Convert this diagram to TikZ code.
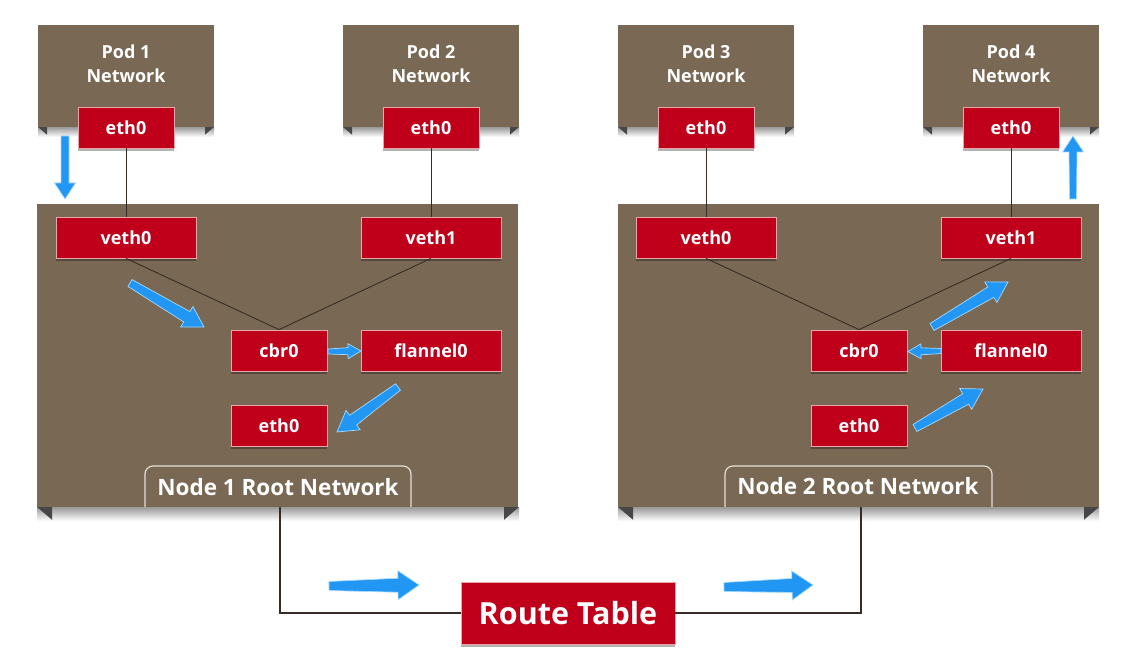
\documentclass[tikz,border=0pt]{standalone}
\usepackage{fontspec}
\setmainfont{Open Sans}
\usetikzlibrary{calc,shadows}
\definecolor{brownbg}{RGB}{121,104,84}
\definecolor{redfill}{RGB}{192,0,26}
\definecolor{redline}{RGB}{232,165,170}
\definecolor{arrowblue}{RGB}{33,150,243}
\definecolor{arrowedge}{RGB}{165,218,255}
\definecolor{wirecol}{RGB}{55,45,38}
\definecolor{labedge}{RGB}{228,222,214}
\tikzset{
 redbox/.style={draw=redline, line width=0.8pt, fill=redfill, text=white,
   font=\bfseries\fontsize{18}{20}\selectfont, inner sep=0pt, minimum height=41pt,
   drop shadow={shadow xshift=0pt, shadow yshift=-3pt, opacity=0.3, fill=black}},
 narrowbox/.style={redbox, minimum width=96pt},
 widebox/.style={redbox, minimum width=140pt},
 routebox/.style={redbox, minimum width=214pt, minimum height=62pt,
   font=\bfseries\fontsize{30.5}{32}\selectfont},
 podbox/.style={fill=brownbg, draw=none, inner sep=0pt, anchor=north west,
   minimum width=176pt, minimum height=102pt},
 nodebox/.style={fill=brownbg, draw=none, inner sep=0pt, anchor=north west,
   minimum width=481pt, minimum height=303pt},
 podtext/.style={text=white, font=\bfseries\fontsize{18}{24}\selectfont, align=center},
 wire/.style={draw=wirecol, line width=0.9pt},
 routewire/.style={draw=wirecol, line width=1.8pt},
 barrow/.style={fill=arrowblue, draw=arrowedge, line width=0.7pt, line join=miter},
 labbox/.style={draw=labedge, line width=1.2pt, rounded corners=8pt},
 labtext/.style={text=white, font=\bfseries\fontsize{22.5}{24}\selectfont},
}
% #1 tail, #2 tip, #3 tail half width, #4 shaft half width at head, #5 head half width, #6 head length
\newcommand\bluearrow[6]{%
 \coordinate (ba-a) at #1; \coordinate (ba-b) at #2;
 \coordinate (ba-h) at ($(ba-b)!#6!(ba-a)$);
 \draw[barrow] ($(ba-a)!#3!90:(ba-b)$) -- ($(ba-h)!#4!90:(ba-b)$) -- ($(ba-h)!#5!90:(ba-b)$)
   -- (ba-b) -- ($(ba-h)!#5!-90:(ba-b)$) -- ($(ba-h)!#4!-90:(ba-b)$) -- ($(ba-a)!#3!-90:(ba-b)$) -- cycle;
}
% shadow + folded corners under a brown box: #1 left x, #2 right x, #3 bottom y, #4 corner size, #5 shadow depth
\newcommand\boxfoot[5]{%
 \shade[top color=black!40, bottom color=white] (#1,#3) rectangle (#2,#3+#5);
 \fill[black!72] (#1,#3) -- (#1+#4,#3) -- (#1+#4,#3+0.85*#4) -- cycle;
 \fill[black!72] (#2,#3) -- (#2-#4,#3) -- (#2-#4,#3+0.85*#4) -- cycle;
}
\begin{document}
\begin{tikzpicture}[x=1pt,y=-1pt]
\useasboundingbox[fill=white] (0,0) rectangle (1135,671);

% shadows under brown boxes
\boxfoot{38}{214}{127}{9}{10}
\boxfoot{343}{519}{127}{9}{10}
\boxfoot{618}{794}{127}{9}{10}
\boxfoot{923}{1099}{127}{9}{10}
\boxfoot{37}{519}{507}{15}{14}
\boxfoot{618}{1099}{507}{15}{14}

% brown boxes
\node[podbox] (pod1) at (38,25) {};
\node[podbox] (pod2) at (343,25) {};
\node[podbox] (pod3) at (618,25) {};
\node[podbox] (pod4) at (923,25) {};
\node[nodebox] (node1) at (37,204) {};
\node[nodebox] (node2) at (618,204) {};

\node[podtext] (pod1t) at (126,64) {Pod 1\\Network};
\node[podtext] (pod2t) at (431,64) {Pod 2\\Network};
\node[podtext] (pod3t) at (706,64) {Pod 3\\Network};
\node[podtext] (pod4t) at (1011,64) {Pod 4\\Network};

% root network labels
\draw[labbox] (145,507) -- (145,466) -- (411,466) -- (411,507);
\draw[labbox] (725,507) -- (725,466) -- (992,466) -- (992,507);
\node[labtext] (n1lab) at (278,487) {Node 1 Root Network};
\node[labtext] (n2lab) at (858,486) {Node 2 Root Network};
\coordinate (n1bot) at (280,507);
\coordinate (n2bot) at (861,507);

% red boxes
\node[narrowbox] (p1eth) at (126,127.5) {eth0};
\node[narrowbox] (p2eth) at (431,127.5) {eth0};
\node[narrowbox] (p3eth) at (706,127.5) {eth0};
\node[narrowbox] (p4eth) at (1011,127.5) {eth0};

\node[widebox] (n1veth0) at (126,237.5) {veth0};
\node[widebox] (n1veth1) at (431,237.5) {veth1};
\node[narrowbox] (n1cbr) at (279,350.5) {cbr0};
\node[widebox] (n1fl) at (431,350.5) {flannel0};
\node[narrowbox] (n1eth) at (279,425.5) {eth0};

\node[widebox] (n2veth0) at (706,237.5) {veth0};
\node[widebox] (n2veth1) at (1011,237.5) {veth1};
\node[narrowbox] (n2cbr) at (859,350.5) {cbr0};
\node[widebox] (n2fl) at (1011,350.5) {flannel0};
\node[narrowbox] (n2eth) at (859,425.5) {eth0};

\node[routebox] (route) at (568,613) {Route Table};

% wires
\draw[wire] (p1eth.south) -- (n1veth0.north);
\draw[wire] (p2eth.south) -- (n1veth1.north);
\draw[wire] (p3eth.south) -- (n2veth0.north);
\draw[wire] (p4eth.south) -- (n2veth1.north);
\draw[wire] (n1veth0.south) -- (n1cbr.north);
\draw[wire] (n1veth1.south) -- (n1cbr.north);
\draw[wire] (n2veth0.south) -- (n2cbr.north);
\draw[wire] (n2veth1.south) -- (n2cbr.north);
\draw[routewire] (n1bot) |- (route.west);
\draw[routewire] (route.east) -| (n2bot);

% blue arrows
\bluearrow{(65,136)}{(65,199)}{4pt}{4pt}{10.5pt}{16pt}
\bluearrow{(130,283)}{(204,327)}{4pt}{6pt}{12pt}{20pt}
\bluearrow{(328,351.5)}{(361,351)}{2.5pt}{3.5pt}{7.5pt}{13pt}
\bluearrow{(398,387)}{(337,432)}{4pt}{6pt}{12pt}{20pt}
\bluearrow{(329,586)}{(419,585)}{4.5pt}{7pt}{14.5pt}{21pt}
\bluearrow{(724,587)}{(813,585)}{4.5pt}{7pt}{14.5pt}{21pt}
\bluearrow{(1073,199)}{(1073,136)}{3.5pt}{4pt}{10.5pt}{16pt}
\bluearrow{(932,327)}{(1008,282)}{4pt}{6pt}{12pt}{20pt}
\bluearrow{(941,351)}{(908,351.5)}{2.5pt}{3.5pt}{7.5pt}{13pt}
\bluearrow{(915,428)}{(983,389)}{4pt}{6pt}{12pt}{20pt}
\end{tikzpicture}
\end{document}
